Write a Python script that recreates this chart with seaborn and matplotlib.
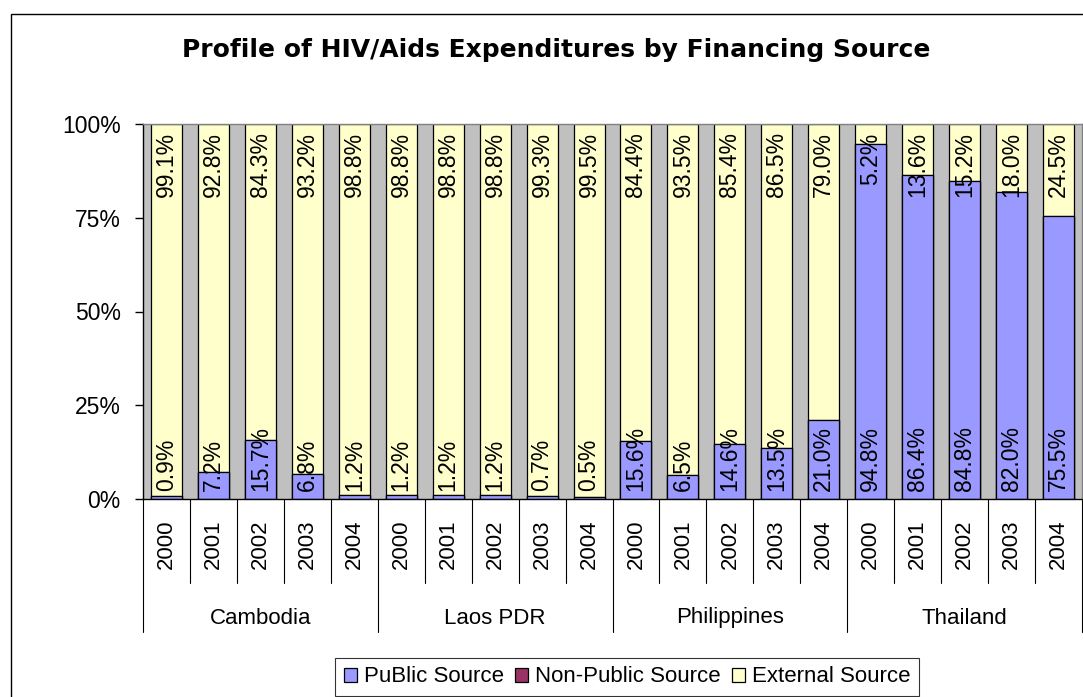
import matplotlib
matplotlib.use("Agg")
import matplotlib.pyplot as plt
import matplotlib.transforms as mtrans
from matplotlib.patches import Patch, Rectangle
import seaborn as sns
import pandas as pd

countries = ["Cambodia", "Laos PDR", "Philippines", "Thailand"]
years = ["2000", "2001", "2002", "2003", "2004"]
public = [0.9, 7.2, 15.7, 6.8, 1.2,
          1.2, 1.2, 1.2, 0.7, 0.5,
          15.6, 6.5, 14.6, 13.5, 21.0,
          94.8, 86.4, 84.8, 82.0, 75.5]
non_public = [0.0] * 20
external = [99.1, 92.8, 84.3, 93.2, 98.8,
            98.8, 98.8, 98.8, 99.3, 99.5,
            84.4, 93.5, 85.4, 86.5, 79.0,
            5.2, 13.6, 15.2, 18.0, 24.5]
series_names = ["PuBlic Source", "Non-Public Source", "External Source"]
title = "Profile of HIV/Aids Expenditures by Financing Source"

BLUE = "#9999FF"
MAROON = "#993366"
YELLOW = "#FFFFCC"
GRAY = "#C0C0C0"

sns.set_theme(style="white")
plt.rcParams["font.family"] = ["Liberation Sans", "DejaVu Sans"]
plt.rcParams["text.color"] = "black"
plt.rcParams["xtick.color"] = "black"
plt.rcParams["ytick.color"] = "black"
plt.rcParams["axes.labelcolor"] = "black"

rows = []
i = 0
for c in countries:
    for y in years:
        rows.append({"key": f"{c}|{y}", "country": c, "year": y,
                     "public": public[i], "nonpub": non_public[i],
                     "external": external[i]})
        i += 1
df = pd.DataFrame(rows)
df["lower"] = df["public"] + df["nonpub"]
df["total"] = df["lower"] + df["external"]
order = list(df["key"])

fig = plt.figure(figsize=(10.83, 6.97), dpi=100)
W, H = 1083, 697
x0, x1, ytop, ybot = 143, 1082, 124, 499
ax = fig.add_axes([x0 / W, 1 - ybot / H, (x1 - x0) / W, (ybot - ytop) / H])
ax.set_facecolor(GRAY)

common = dict(data=df, x="key", order=order, width=0.66, edgecolor="black",
              linewidth=0.9, saturation=1, ax=ax, errorbar=None)
sns.barplot(y="total", color=YELLOW, **common)
sns.barplot(y="lower", color=MAROON, **common)
sns.barplot(y="public", color=BLUE, **common)

ax.set_ylim(0, 100)
ax.set_xlim(-0.5, len(order) - 0.5)
ax.set_yticks([0, 25, 50, 75, 100])
ax.set_yticklabels(["0%", "25%", "50%", "75%", "100%"], fontsize=16.5)
ax.tick_params(axis="y", direction="out", length=6, width=1, color="black",
               labelcolor="black", pad=10, left=True)
ax.set_xticks(range(len(order)))
ax.set_xticklabels(list(df["year"]), rotation=90, fontsize=16, va="top", ha="center")
ax.tick_params(axis="x", length=0, pad=15, labelcolor="black")
ax.set_xlabel("")
ax.set_ylabel("")
for s in ["left", "bottom"]:
    ax.spines[s].set_color("black")
    ax.spines[s].set_linewidth(1)
for s in ["top", "right"]:
    ax.spines[s].set_color("#808080")
    ax.spines[s].set_linewidth(1)

# value labels
for k in range(len(order)):
    if df["public"][k] > 0:
        ax.annotate(f"{df['public'][k]:.1f}%", (k, 0), xytext=(0, 6),
                    textcoords="offset points", rotation=90, ha="center",
                    va="bottom", fontsize=16.5, color="black")
    if df["external"][k] > 0:
        ax.annotate(f"{df['external'][k]:.1f}%", (k, df["total"][k]), xytext=(0, -6),
                    textcoords="offset points", rotation=90, ha="center",
                    va="top", fontsize=16.5, color="black")

# category separators and group labels
trans = mtrans.blended_transform_factory(ax.transData, ax.transAxes)
axh = ybot - ytop
year_end = -(583 - ybot) / axh
group_end = -(632 - ybot) / axh
group_lab = -(618 - ybot) / axh
n = len(years)
for b in range(len(order) + 1):
    xb = b - 0.5
    yend = group_end if b % n == 0 else year_end
    ax.plot([xb, xb], [0, yend], transform=trans, color="black", lw=0.8, clip_on=False)
for g, c in enumerate(countries):
    ax.text(g * n + (n - 1) / 2, group_lab, c, transform=trans, ha="center",
            va="center", fontsize=16, color="black")

fig.text(556 / W, 1 - 50 / H, title, ha="center", va="center", fontsize=18,
         fontweight="bold", family=["DejaVu Sans"], color="black")

handles = [Patch(facecolor=col, edgecolor="black", linewidth=0.9)
           for col in [BLUE, MAROON, YELLOW]]
leg = fig.legend(handles, series_names, loc="center", ncol=3,
                 bbox_to_anchor=(627 / W, 1 - 677 / H), fontsize=16,
                 frameon=True, fancybox=False, edgecolor="black",
                 handlelength=0.6, handleheight=0.6, handletextpad=0.3,
                 columnspacing=0.5, borderpad=0.4)
leg.get_frame().set_linewidth(0.8)
for t in leg.get_texts():
    t.set_color("black")

fig.patches.append(Rectangle((11 / W, -0.1), 1.2, 1 - 14 / H + 0.1,
                             transform=fig.transFigure, fill=False,
                             edgecolor="black", linewidth=1, zorder=-1))

fig.savefig("out.png", dpi=100)
